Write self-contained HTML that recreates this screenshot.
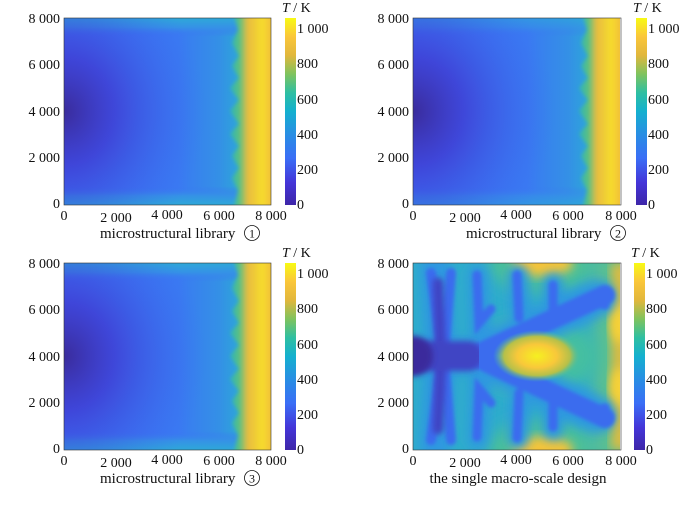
<!DOCTYPE html>
<html><head><meta charset="utf-8"><style>
html,body{margin:0;padding:0;background:#fff;}
svg{display:block;font-family:"Liberation Serif",serif;}
</style></head><body>
<svg width="700" height="505" viewBox="0 0 700 505" xmlns="http://www.w3.org/2000/svg">
<defs>
<linearGradient id="cbar" x1="0" y1="1" x2="0" y2="0">
<stop offset="0" stop-color="#3e26a8"/>
<stop offset="0.12" stop-color="#4435d8"/>
<stop offset="0.25" stop-color="#3a6ef6"/>
<stop offset="0.4" stop-color="#2594e0"/>
<stop offset="0.5" stop-color="#14b0cf"/>
<stop offset="0.6" stop-color="#2ebfa2"/>
<stop offset="0.7" stop-color="#7fc35e"/>
<stop offset="0.8" stop-color="#e1b73c"/>
<stop offset="0.9" stop-color="#fac63a"/>
<stop offset="1" stop-color="#f8fa14"/>
</linearGradient>
<linearGradient id="vband" x1="0" y1="0" x2="0" y2="1">
<stop offset="0" stop-color="#2ea8d8"/>
<stop offset="0.05" stop-color="#3592e6"/>
<stop offset="0.1" stop-color="#3a74f2" stop-opacity="0"/>
<stop offset="0.9" stop-color="#3a74f2" stop-opacity="0"/>
<stop offset="0.95" stop-color="#3592e6"/>
<stop offset="1" stop-color="#2ea8d8"/>
</linearGradient>
<linearGradient id="hband" x1="0" y1="0" x2="1" y2="0">
<stop offset="0" stop-color="#3b6ef4"/>
<stop offset="0.55" stop-color="#3a7af2"/>
<stop offset="0.75" stop-color="#3490e6"/>
<stop offset="0.84" stop-color="#2ea4da"/>
<stop offset="1" stop-color="#2ab8c0"/>
</linearGradient>
<linearGradient id="rband" x1="0" y1="0" x2="1" y2="0">
<stop offset="0" stop-color="#2eb4b8"/>
<stop offset="0.18" stop-color="#5cc080"/>
<stop offset="0.33" stop-color="#e8bc40"/>
<stop offset="0.6" stop-color="#f6dc2c"/>
<stop offset="0.75" stop-color="#f2c238"/>
<stop offset="1" stop-color="#f2c238"/>
</linearGradient>
<radialGradient id="dark" cx="0" cy="0.5" r="0.75" gradientTransform="translate(0,0.5) scale(1,1.1) translate(0,-0.5)">
<stop offset="0" stop-color="#3a2c9c" stop-opacity="1"/>
<stop offset="0.35" stop-color="#4038d0" stop-opacity="0.75"/>
<stop offset="1" stop-color="#3a6cf2" stop-opacity="0"/>
</radialGradient>
<radialGradient id="hot" cx="0.5" cy="0.5" r="0.5">
<stop offset="0" stop-color="#f6f020"/>
<stop offset="0.45" stop-color="#f8c83a"/>
<stop offset="0.75" stop-color="#b5c04a"/>
<stop offset="1" stop-color="#40bfa8" stop-opacity="0"/>
</radialGradient>
<filter id="b3" x="-20%" y="-20%" width="140%" height="140%"><feGaussianBlur stdDeviation="3"/></filter>
<filter id="b5" x="-20%" y="-20%" width="140%" height="140%"><feGaussianBlur stdDeviation="5"/></filter>
<filter id="b8" x="-30%" y="-30%" width="160%" height="160%"><feGaussianBlur stdDeviation="8"/></filter>
<filter id="b2" x="-20%" y="-20%" width="140%" height="140%"><feGaussianBlur stdDeviation="1.8"/></filter>
<clipPath id="clip"><rect x="0" y="0" width="207" height="187"/></clipPath>
</defs>

<g transform="translate(64,18)"><g clip-path="url(#clip)">
<rect width="207" height="187" fill="url(#hband)"/>
<rect width="207" height="187" fill="url(#vband)"/>
<rect width="190" height="187" fill="url(#dark)"/>
<path d="M168,-10 L220,-10 L220,197 L168,197 L174,172 L168,160 L175,150 L168,138 L175,128 L166,116 L175,106 L166,93 L175,82 L166,70 L175,60 L168,48 L175,38 L168,25 L174,12 Z" fill="url(#rband)" filter="url(#b2)"/>
</g><rect width="207" height="187" fill="none" stroke="#333" stroke-width="0.6"/></g>

<g transform="translate(413,18)"><g clip-path="url(#clip)">
<rect width="207" height="187" fill="url(#hband)"/>
<rect width="207" height="187" fill="url(#vband)" opacity="0.6"/>
<rect width="190" height="187" fill="url(#dark)"/>
<path d="M168,-10 L220,-10 L220,197 L168,197 L174,172 L168,160 L175,150 L168,138 L175,128 L166,116 L175,106 L166,93 L175,82 L166,70 L175,60 L168,48 L175,38 L168,25 L174,12 Z" fill="url(#rband)" filter="url(#b2)"/>
</g><rect width="208" height="187" fill="none" stroke="#333" stroke-width="0.6"/></g>

<g transform="translate(64,263)"><g clip-path="url(#clip)">
<rect width="207" height="187" fill="url(#hband)"/>
<rect width="207" height="187" fill="url(#vband)"/>
<rect width="190" height="187" fill="url(#dark)"/>
<path d="M168,-10 L220,-10 L220,197 L168,197 L174,172 L168,160 L175,150 L168,138 L175,128 L166,116 L175,106 L166,93 L175,82 L166,70 L175,60 L168,48 L175,38 L168,25 L174,12 Z" fill="url(#rband)" filter="url(#b2)"/>
</g><rect width="207" height="187" fill="none" stroke="#333" stroke-width="0.6"/></g>

<g transform="translate(413,263)">
<g clip-path="url(#clip)">
<rect width="207" height="187" fill="#2eaccc"/>
<ellipse cx="130" cy="0" rx="55" ry="30" fill="#4cc098" filter="url(#b8)"/>
<ellipse cx="130" cy="187" rx="55" ry="30" fill="#4cc098" filter="url(#b8)"/>
<rect x="180" y="-10" width="40" height="207" fill="#5cc090" filter="url(#b8)"/>
<ellipse cx="124" cy="93" rx="62" ry="38" fill="#44bfa0" filter="url(#b8)"/>
<ellipse cx="130" cy="0" rx="30" ry="14" fill="#f4c43a" filter="url(#b5)"/>
<ellipse cx="130" cy="187" rx="30" ry="14" fill="#f4c43a" filter="url(#b5)"/>
<rect x="198" y="0" width="20" height="187" fill="#d8bc44" filter="url(#b5)"/>
<ellipse cx="207" cy="60" rx="10" ry="20" fill="#f6d238" filter="url(#b5)"/>
<ellipse cx="207" cy="125" rx="10" ry="20" fill="#f6d238" filter="url(#b5)"/>
<g stroke="#2e98e0" fill="none" stroke-linecap="round" filter="url(#b5)">
<path d="M0,93 L60,93 L185,35 M60,93 L185,152" stroke-width="36"/>
<path d="M22,5 L28,93 L22,182" stroke-width="30"/>
<path d="M65,12 L68,90 L65,176 M105,12 L108,60 M105,176 L108,126 M140,20 L140,60 M140,167 L140,125" stroke-width="20"/>
</g>
<g stroke="#3b6cee" fill="none" stroke-linecap="round" filter="url(#b2)">
<path d="M0,93 L60,93 L192,32 M60,93 L192,155" stroke-width="20"/>
<path d="M18,10 L28,80 M38,10 L32,80 M18,177 L28,106 M38,177 L32,106" stroke-width="10"/>
<path d="M64,12 L66,60 L78,46 M64,174 L66,126 L78,140 M104,12 L106,55 M104,175 L106,130 M140,22 L140,52 M140,164 L140,135 M175,38 L192,42 M175,149 L192,145" stroke-width="9"/>
</g>
<g stroke="#3f44c4" fill="none" stroke-linecap="round" filter="url(#b3)">
<path d="M0,93 L55,93" stroke-width="30"/>
<path d="M25,20 L28,93 L25,166" stroke-width="11"/>
</g>
<ellipse cx="0" cy="93" rx="20" ry="20" fill="#3a2c9c" filter="url(#b3)"/>
<ellipse cx="124" cy="93" rx="44" ry="26" fill="url(#hot)"/>
</g>
<rect width="208" height="187" fill="none" stroke="#333" stroke-width="0.6"/>
</g>

<rect x="285" y="18" width="11" height="187" fill="url(#cbar)"/>
<rect x="636" y="18" width="11" height="187" fill="url(#cbar)"/>
<rect x="285" y="263" width="11" height="187" fill="url(#cbar)"/>
<rect x="634" y="263" width="11" height="187" fill="url(#cbar)"/>

<g font-size="14" fill="#111">
<g text-anchor="end">
<text x="60" y="23">8 000</text><text x="60" y="69">6 000</text><text x="60" y="116">4 000</text><text x="60" y="162">2 000</text><text x="60" y="208">0</text>
<text x="409" y="23">8 000</text><text x="409" y="69">6 000</text><text x="409" y="116">4 000</text><text x="409" y="162">2 000</text><text x="409" y="208">0</text>
<text x="60" y="268">8 000</text><text x="60" y="314">6 000</text><text x="60" y="361">4 000</text><text x="60" y="407">2 000</text><text x="60" y="453">0</text>
<text x="409" y="268">8 000</text><text x="409" y="314">6 000</text><text x="409" y="361">4 000</text><text x="409" y="407">2 000</text><text x="409" y="453">0</text>
</g>
<g text-anchor="middle">
<text x="64" y="220">0</text><text x="116" y="222">2 000</text><text x="167" y="219">4 000</text><text x="219" y="220">6 000</text><text x="271" y="220">8 000</text>
<text x="413" y="220">0</text><text x="465" y="222">2 000</text><text x="516" y="219">4 000</text><text x="568" y="220">6 000</text><text x="621" y="220">8 000</text>
<text x="64" y="465">0</text><text x="116" y="467">2 000</text><text x="167" y="464">4 000</text><text x="219" y="465">6 000</text><text x="271" y="465">8 000</text>
<text x="413" y="465">0</text><text x="465" y="467">2 000</text><text x="516" y="464">4 000</text><text x="568" y="465">6 000</text><text x="621" y="465">8 000</text>
</g>
<g>
<text x="297" y="33">1 000</text><text x="297" y="68">800</text><text x="297" y="104">600</text><text x="297" y="139">400</text><text x="297" y="174">200</text><text x="297" y="209">0</text>
<text x="648" y="33">1 000</text><text x="648" y="68">800</text><text x="648" y="104">600</text><text x="648" y="139">400</text><text x="648" y="174">200</text><text x="648" y="209">0</text>
<text x="297" y="278">1 000</text><text x="297" y="313">800</text><text x="297" y="349">600</text><text x="297" y="384">400</text><text x="297" y="419">200</text><text x="297" y="454">0</text>
<text x="646" y="278">1 000</text><text x="646" y="313">800</text><text x="646" y="349">600</text><text x="646" y="384">400</text><text x="646" y="419">200</text><text x="646" y="454">0</text>
</g>
<text x="282" y="12"><tspan font-style="italic">T</tspan> / K</text>
<text x="633" y="12"><tspan font-style="italic">T</tspan> / K</text>
<text x="282" y="257"><tspan font-style="italic">T</tspan> / K</text>
<text x="631" y="257"><tspan font-style="italic">T</tspan> / K</text>
<g font-size="15">
<text x="100" y="238">microstructural library</text>
<text x="466" y="238">microstructural library</text>
<text x="100" y="483">microstructural library</text>
<text x="518" y="483" text-anchor="middle">the single macro-scale design</text>
</g>
<circle cx="252" cy="233" r="7.5" fill="none" stroke="#111" stroke-width="0.8"/><text x="252" y="237.5" text-anchor="middle" font-size="12">1</text>
<circle cx="618" cy="233" r="7.5" fill="none" stroke="#111" stroke-width="0.8"/><text x="618" y="237.5" text-anchor="middle" font-size="12">2</text>
<circle cx="252" cy="478" r="7.5" fill="none" stroke="#111" stroke-width="0.8"/><text x="252" y="482.5" text-anchor="middle" font-size="12">3</text>
</g>
</svg>
</body></html>
